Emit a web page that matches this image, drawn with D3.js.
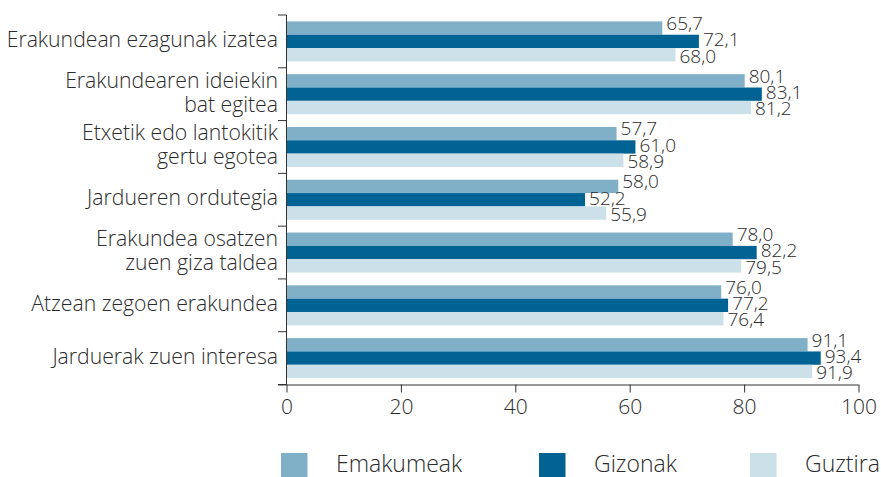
<!DOCTYPE html>
<html>
<head>
<meta charset="utf-8">
<script src="https://cdn.jsdelivr.net/npm/d3@7"></script>
<style>
  body { margin: 0; background: #fff; }
  text { font-family: "Open Sans", sans-serif; fill: #2b2b2b; }
</style>
</head>
<body>
<div id="chart"></div>
<script>
// categories (| marks a line break in the label)
var categories = [
    'Erakundean ezagunak izatea',
    'Erakundearen ideiekin|bat egitea',
    'Etxetik edo lantokitik|gertu egotea',
    'Jardueren ordutegia',
    'Erakundea osatzen|zuen giza taldea',
    'Atzean zegoen erakundea',
    'Jarduerak zuen interesa'
];
var seriesNames = ['Emakumeak', 'Gizonak', 'Guztira'];
var emakumeak = [65.7, 80.1, 57.7, 58.0, 78.0, 76.0, 91.1];
var gizonak = [72.1, 83.1, 61.0, 52.2, 82.2, 77.2, 93.4];
var guztira = [68.0, 81.2, 58.9, 55.9, 79.5, 76.4, 91.9];
var xTicks = [0, 20, 40, 60, 80, 100];
var colors = ['#7fb0c8', '#006394', '#cbe0e9'];

var seriesValues = [emakumeak, gizonak, guztira];
var width = 881,
    height = 477,
    margin = { top: 15, right: 22.5, bottom: 92.5, left: 286.5 };

var svg = d3.select('#chart')
    .append('svg')
    .attr('width', width)
    .attr('height', height);

var x = d3.scaleLinear()
    .domain([0, 100])
    .range([margin.left, width - margin.right]);

var y = d3.scaleBand()
    .domain(categories)
    .range([margin.top, height - margin.bottom])
    .paddingInner(0.242)
    .paddingOuter(0.121);

var ySub = d3.scaleBand()
    .domain(seriesNames)
    .range([0, y.bandwidth()]);

var step = y.step();
var fmt = function (v) { return v.toFixed(1).replace('.', ','); };

// bars
var groups = svg.selectAll('.group')
    .data(categories)
    .enter()
    .append('g')
    .attr('class', 'group')
    .attr('transform', function (d) { return 'translate(0,' + y(d) + ')'; });

groups.selectAll('rect')
    .data(function (d, i) {
        return seriesNames.map(function (s, j) {
            return { name: s, value: seriesValues[j][i], idx: j };
        });
    })
    .enter()
    .append('rect')
    .attr('x', x(0))
    .attr('y', function (d) { return ySub(d.name); })
    .attr('width', function (d) { return x(d.value) - x(0); })
    .attr('height', ySub.bandwidth())
    .attr('fill', function (d) { return colors[d.idx]; });

// value labels
groups.selectAll('.val')
    .data(function (d, i) {
        return seriesNames.map(function (s, j) {
            return { name: s, value: seriesValues[j][i], idx: j };
        });
    })
    .enter()
    .append('text')
    .attr('class', 'val')
    .attr('x', function (d) { return x(d.value) + 4; })
    .attr('y', function (d) {
        return ySub(d.name) + ySub.bandwidth() / 2 + (d.idx - 1) * 3 - 2;
    })
    .attr('dy', '0.36em')
    .attr('font-size', 19)
    .attr('font-weight', 300)
    .text(function (d) { return fmt(d.value); });

// category separators on the left (band boundaries)
var bounds = d3.range(categories.length + 1).map(function (i) { return margin.top + i * step; });
svg.selectAll('.sep')
    .data(bounds)
    .enter()
    .append('line')
    .attr('x1', x(0) - 8.5)
    .attr('x2', x(0))
    .attr('y1', function (d) { return d; })
    .attr('y2', function (d) { return d; })
    .attr('stroke', '#333')
    .attr('stroke-width', 1);

svg.append('line')
    .attr('x1', x(0))
    .attr('x2', x(0))
    .attr('y1', margin.top)
    .attr('y2', height - margin.bottom)
    .attr('stroke', '#333')
    .attr('stroke-width', 1);

// category labels
svg.selectAll('.cat')
    .data(categories)
    .enter()
    .append('text')
    .attr('class', 'cat')
    .attr('text-anchor', 'end')
    .attr('font-size', 21.2)
    .attr('font-weight', 300)
    .each(function (d) {
        var lines = d.split('|');
        var cy = y(d) + y.bandwidth() / 2;
        var t = d3.select(this);
        lines.forEach(function (l, k) {
            t.append('tspan')
                .attr('x', x(0) - 8.5)
                .attr('y', cy + 5.5 + (k - (lines.length - 1) / 2) * 24)
                .text(l);
        });
    });

// x axis
var xAxis = svg.append('g')
    .attr('transform', 'translate(0,' + (height - margin.bottom) + ')')
    .call(d3.axisBottom(x).tickValues(xTicks).tickSize(8).tickPadding(7).tickFormat(d3.format('d')));
xAxis.select('.domain')
    .attr('d', 'M' + (x(0) - 8.5) + ',0.5H' + x(100))
    .attr('stroke', '#333');
xAxis.selectAll('.tick line').attr('stroke', '#333');
xAxis.selectAll('.tick text')
    .attr('font-size', 21)
    .attr('font-weight', 300)
    .style('font-family', '"Open Sans", sans-serif')
    .attr('fill', '#2b2b2b');

// legend
var legendX = [281, 539, 750];
var legend = svg.selectAll('.legend')
    .data(seriesNames)
    .enter()
    .append('g')
    .attr('class', 'legend')
    .attr('transform', function (d, i) { return 'translate(' + legendX[i] + ',453)'; });
legend.append('rect')
    .attr('width', 26.5)
    .attr('height', 26)
    .attr('fill', function (d, i) { return colors[i]; });
legend.append('text')
    .attr('x', 55)
    .attr('y', 18.5)
    .attr('font-size', 23)
    .attr('font-weight', 300)
    .text(function (d) { return d; });
</script>
</body>
</html>
